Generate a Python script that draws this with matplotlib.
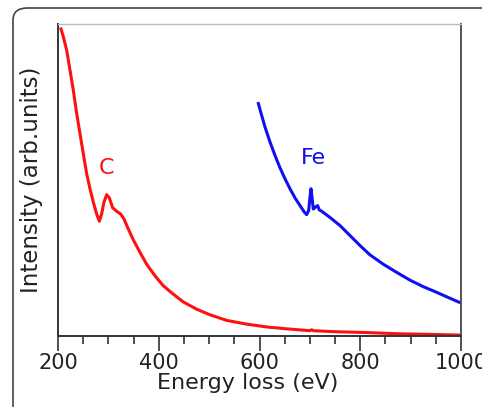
import numpy as np
import matplotlib
matplotlib.use("Agg")
import matplotlib.pyplot as plt
from matplotlib.patches import FancyBboxPatch
from matplotlib.ticker import MultipleLocator

# carbon K-edge spectrum (energy in eV, intensity arb.)
c_energy = [206.0, 210.6, 217.2, 223.8, 230.4, 237.1, 243.7, 250.3, 256.9, 263.5, 270.1,
            276.7, 282.0, 286.6, 291.3, 296.6, 301.9, 308.4, 316.4, 324.3, 331.0, 339.6,
            349.5, 362.8, 376.0, 392.5, 409.1, 428.9, 448.8, 475.2, 501.7, 534.8, 574.5,
            614.2, 653.8, 700.2, 703.5, 706.8, 746.5, 812.6, 878.8, 945.0, 997.9]
c_intensity = [98.4, 95.9, 91.6, 85.2, 78.8, 71.3, 64.8, 58.4, 52.0, 47.2, 42.9,
               39.1, 36.8, 39.1, 42.9, 45.3, 44.3, 41.1, 40.0, 39.1, 37.5, 34.3,
               30.8, 26.8, 23.0, 19.3, 16.1, 13.4, 10.9, 8.6, 6.8, 5.0, 3.8,
               2.9, 2.3, 1.7, 2.0, 1.7, 1.4, 1.1, 0.7, 0.5, 0.3]

# iron L-edge spectrum
fe_energy = [597.7, 604.3, 610.9, 620.8, 630.7, 640.7, 650.6, 660.5, 670.4, 680.4, 689.0,
             693.6, 697.6, 700.2, 702.2, 704.2, 706.8, 710.8, 715.4, 718.7, 723.4, 739.9,
             759.8, 779.6, 799.5, 819.3, 845.8, 872.3, 898.7, 925.2, 951.7, 978.1, 998.0]
fe_intensity = [74.5, 70.7, 67.0, 62.2, 57.9, 53.9, 50.4, 47.2, 44.3, 41.8, 39.7,
                38.9, 40.2, 44.5, 47.2, 44.5, 40.7, 41.3, 41.8, 40.4, 40.0, 38.0,
                35.4, 32.2, 29.0, 26.0, 23.0, 20.4, 17.9, 15.8, 14.0, 12.1, 10.7]

fig = plt.figure(figsize=(4.82, 4.07), dpi=100)

# rounded outer frame
frame = FancyBboxPatch((13 / 482, -0.05), 1.2, 1.05 - 8 / 407,
                       boxstyle="round,pad=0,rounding_size=0.03",
                       transform=fig.transFigure, facecolor="none",
                       edgecolor="#444444", linewidth=1.2, zorder=5)
fig.patches.append(frame)

ax = fig.add_axes([58 / 482, (407 - 336) / 407, 403 / 482, 312 / 407])
ax.patch.set_alpha(0)

ax.plot(c_energy, c_intensity, color="#ff1010", lw=2.2, solid_joinstyle="round")
ax.plot(fe_energy, fe_intensity, color="#1010f0", lw=2.2, solid_joinstyle="round")

ax.text(296, 54, "C", color="#ff1010", fontsize=16, ha="center", va="center")
ax.text(708, 57, "Fe", color="#1010f0", fontsize=16, ha="center", va="center")

ax.set_xlim(200, 1000)
ax.set_ylim(0, 100)
ax.xaxis.set_major_locator(MultipleLocator(200))
ax.xaxis.set_minor_locator(MultipleLocator(50))
ax.tick_params(axis="x", which="major", length=11, width=1.2, color="#333333",
               labelsize=15, labelcolor="#222222", pad=1)
ax.tick_params(axis="x", which="minor", length=6, width=1.2, color="#333333")
ax.set_yticks([])

ax.spines["left"].set_color("#333333")
ax.spines["bottom"].set_color("#333333")
ax.spines["right"].set_color("#555555")
ax.spines["top"].set_color("#bbbbbb")
for s in ["left", "bottom", "right"]:
    ax.spines[s].set_linewidth(1.4)
ax.spines["top"].set_linewidth(1.0)

ax.set_xlabel("Energy loss (eV)", fontsize=16, color="#222222")
ax.set_ylabel("Intensity (arb.units)", fontsize=16.5, color="#222222")
ax.xaxis.set_label_coords(0.471, -0.118)
ax.yaxis.set_label_coords(-0.037, 0.5)

fig.savefig("out.png", dpi=100)
